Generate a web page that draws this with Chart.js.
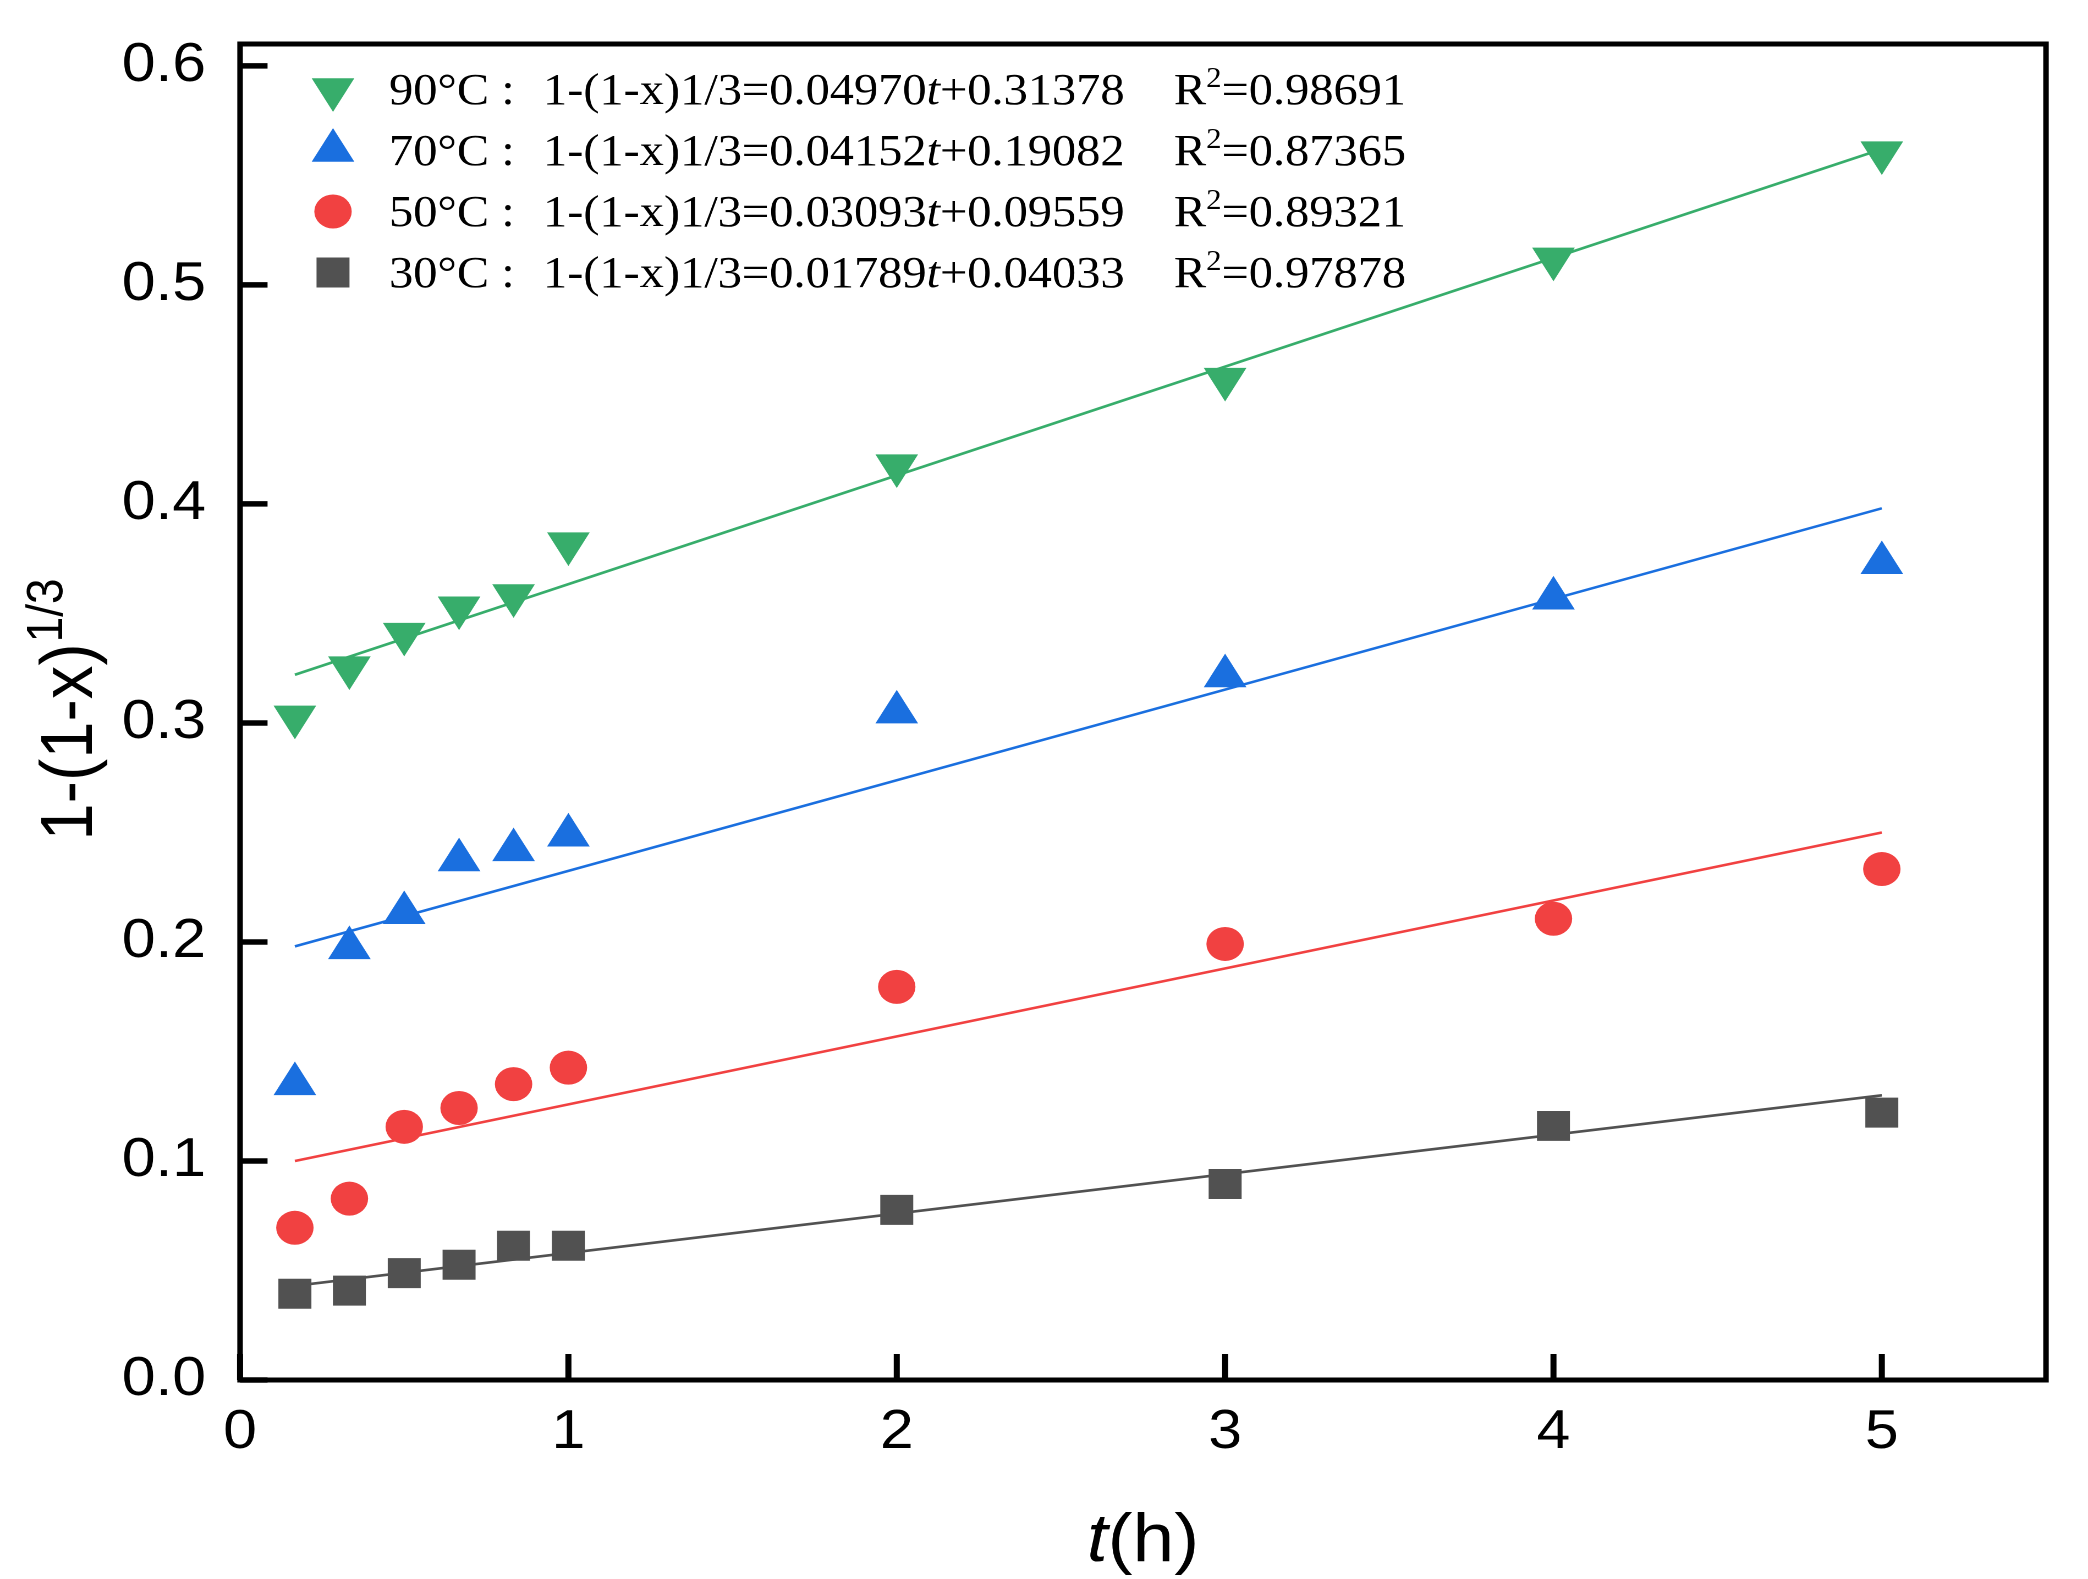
<!DOCTYPE html>
<html>
<head>
<meta charset="utf-8">
<script src="https://cdn.jsdelivr.net/npm/chart.js@4.4.1/dist/chart.umd.min.js"></script>
<style>
html,body{margin:0;padding:0;background:#fff;overflow:hidden;}
#wrap{position:absolute;left:0;top:0;width:1898px;height:1579px;transform:scaleX(1.10011);transform-origin:0 0;}
canvas{display:block;}
</style>
</head>
<body>
<div id="wrap"><canvas id="c" width="1898" height="1579" style="width:1898px;height:1579px"></canvas></div>
<script>
// ---------- data ----------
const times = [0.167, 0.333, 0.5, 0.667, 0.833, 1, 2, 3, 4, 5];
const y90 = [0.3028, 0.3253, 0.3406, 0.3526, 0.3582, 0.3819, 0.4175, 0.4570, 0.5119, 0.5604];
const y70 = [0.1352, 0.1973, 0.2133, 0.2374, 0.2420, 0.2487, 0.3049, 0.3214, 0.3569, 0.3731];
const y50 = [0.0695, 0.0828, 0.1156, 0.1242, 0.1351, 0.1426, 0.1795, 0.1991, 0.2106, 0.2333];
const y30 = [0.0394, 0.0408, 0.0488, 0.0526, 0.0613, 0.0613, 0.0777, 0.0895, 0.1160, 0.1221];
const fitT = [0.167, 5];
const fit90 = [0.322, 0.562];
const fit70 = [0.198, 0.398];
const fit50 = [0.100, 0.250];
const fit30 = [0.043, 0.130];
const xTicks = [0, 1, 2, 3, 4, 5];
const yTicks = [0, 0.1, 0.2, 0.3, 0.4, 0.5, 0.6];
const seriesNames = ['90°C', '70°C', '50°C', '30°C'];
const slopes = ['0.04970', '0.04152', '0.03093', '0.01789'];
const intercepts = ['0.31378', '0.19082', '0.09559', '0.04033'];
const r2 = ['0.98691', '0.87365', '0.89321', '0.97878'];

// ---------- styles ----------
const colors = ['#37AD6B', '#1A6FDF', '#F14141', '#515151'];
const markers = [
  {style: 'triangle', rotation: 180, radius: 22.4},
  {style: 'triangle', rotation: 0, radius: 22.4},
  {style: 'circle', rotation: 0, radius: 17},
  {style: 'rect', rotation: 0, radius: 21.2}
];
const W = 1898, H = 1579;
const AREA = {left: 218.2, right: 1859.8, top: 44, bottom: 1380};
const SANS = '"Liberation Sans", Arial, sans-serif';
const SERIF = '"Liberation Serif", "Times New Roman", serif';

const seriesY = [y90, y70, y50, y30];
const fits = [fit90, fit70, fit50, fit30];

const datasets = [];
for (let i = 0; i < 4; i++) {
  datasets.push({
    type: 'line',
    data: fitT.map((t, j) => ({x: t, y: fits[i][j]})),
    borderColor: colors[i], borderWidth: 2.6,
    pointRadius: 0, fill: false, tension: 0, showLine: true, order: 2
  });
}
for (let i = 0; i < 4; i++) {
  datasets.push({
    type: 'scatter',
    data: times.map((t, j) => ({x: t, y: seriesY[i][j]})),
    backgroundColor: colors[i], borderColor: colors[i], borderWidth: 0,
    pointStyle: markers[i].style, pointRotation: markers[i].rotation,
    pointRadius: markers[i].radius, pointHoverRadius: markers[i].radius,
    showLine: false, order: 1
  });
}

function drawMarker(ctx, m, color, x, y) {
  ctx.save();
  ctx.fillStyle = color;
  ctx.beginPath();
  const r = m.radius;
  if (m.style === 'triangle') {
    let rad = m.rotation * Math.PI / 180;
    ctx.moveTo(x + Math.sin(rad) * r, y - Math.cos(rad) * r);
    rad += 2 * Math.PI / 3;
    ctx.lineTo(x + Math.sin(rad) * r, y - Math.cos(rad) * r);
    rad += 2 * Math.PI / 3;
    ctx.lineTo(x + Math.sin(rad) * r, y - Math.cos(rad) * r);
    ctx.closePath();
  } else if (m.style === 'circle') {
    ctx.arc(x, y, r, 0, Math.PI * 2);
  } else {
    const s = r * Math.SQRT1_2;
    ctx.rect(x - s, y - s, 2 * s, 2 * s);
  }
  ctx.fill();
  ctx.restore();
}

const decor = {
  id: 'decor',
  afterDatasetsDraw(chart) {
    const ctx = chart.ctx, a = chart.chartArea;
    const xs = chart.scales.x, ys = chart.scales.y;
    ctx.save();
    ctx.strokeStyle = '#000';
    ctx.lineCap = 'butt';
    ctx.lineWidth = 5.5;
    xTicks.forEach(v => {
      const px = xs.getPixelForValue(v);
      ctx.beginPath(); ctx.moveTo(px, a.bottom); ctx.lineTo(px, a.bottom - 26); ctx.stroke();
    });
    yTicks.forEach(v => {
      const py = ys.getPixelForValue(v);
      ctx.beginPath(); ctx.moveTo(a.left, py); ctx.lineTo(a.left + 25, py); ctx.stroke();
    });
    ctx.lineWidth = 5;
    ctx.strokeRect(a.left, a.top, a.right - a.left, a.bottom - a.top);
    ctx.restore();
  },
  afterDraw(chart) {
    const ctx = chart.ctx, a = chart.chartArea;
    ctx.save();
    ctx.fillStyle = '#000';
    ctx.textBaseline = 'alphabetic';
    ctx.textAlign = 'left';

    // y axis title: 1-(1-x)^{1/3}
    ctx.font = '67px ' + SANS;
    const main = '1-(1-x)';
    const w1 = ctx.measureText(main).width;
    ctx.font = '46px ' + SANS;
    const sup = '1/3';
    const w2 = ctx.measureText(sup).width;
    const cy = (a.top + a.bottom) / 2 - 2;
    ctx.save();
    ctx.translate(83.6, cy + (w1 + w2) / 2);
    ctx.rotate(-Math.PI / 2);
    ctx.font = '67px ' + SANS;
    ctx.fillText(main, 0, 0);
    ctx.font = '46px ' + SANS;
    ctx.fillText(sup, w1 + 1, -27);
    ctx.restore();

    // x axis title: t(h)
    ctx.font = 'italic 68px ' + SANS;
    const wt = ctx.measureText('t').width;
    ctx.font = '68px ' + SANS;
    const wh = ctx.measureText('(h)').width;
    const cx = 1039;
    const sx = cx - (wt + wh) / 2;
    ctx.font = 'italic 68px ' + SANS;
    ctx.fillText('t', sx, 1561);
    ctx.font = '68px ' + SANS;
    ctx.fillText('(h)', sx + wt, 1561);

    // legend
    const textX = 353.6, markerX = 302.7, r2X = 1067;
    for (let i = 0; i < 4; i++) {
      const by = 104 + i * 61;
      drawMarker(ctx, markers[i], colors[i], markerX, by - 14.5);
      ctx.fillStyle = '#000';
      ctx.font = '44px ' + SERIF;
      ctx.fillText(seriesNames[i], textX, by);
      ctx.fillText(':', textX + 102, by);
      let x = textX + 140;
      const eq1 = '1-(1-x)1/3=' + slopes[i];
      ctx.fillText(eq1, x, by);
      x += ctx.measureText(eq1).width;
      ctx.font = 'italic 44px ' + SERIF;
      ctx.fillText('t', x, by);
      x += ctx.measureText('t').width;
      ctx.font = '44px ' + SERIF;
      ctx.fillText('+' + intercepts[i], x, by);
      let x2 = r2X;
      ctx.fillText('R', x2, by);
      x2 += ctx.measureText('R').width;
      ctx.font = '28px ' + SERIF;
      ctx.fillText('2', x2, by - 17);
      x2 += ctx.measureText('2').width;
      ctx.font = '44px ' + SERIF;
      ctx.fillText('=' + r2[i], x2, by);
    }
    ctx.restore();
  }
};

const chart = new Chart(document.getElementById('c'), {
  type: 'scatter',
  data: {datasets},
  options: {
    responsive: false,
    maintainAspectRatio: false,
    animation: false,
    devicePixelRatio: 2,
    events: [],
    layout: {padding: {left: 0, top: AREA.top, right: W - AREA.right, bottom: 0}},
    plugins: {legend: {display: false}, tooltip: {enabled: false}},
    scales: {
      x: {
        type: 'linear', min: 0, max: 5.5,
        grid: {display: false, drawTicks: false},
        border: {display: false},
        afterBuildTicks: s => { s.ticks = xTicks.map(v => ({value: v})); },
        afterFit: s => { s.height = H - AREA.bottom; s.paddingLeft = 0; s.paddingRight = 0; },
        ticks: {
          padding: 20, color: '#000',
          font: {family: SANS, size: 55},
          callback: v => String(v)
        }
      },
      y: {
        type: 'linear', min: 0, max: 0.61,
        grid: {display: false, drawTicks: false},
        border: {display: false},
        afterBuildTicks: s => { s.ticks = yTicks.map(v => ({value: v})); },
        afterFit: s => { s.width = AREA.left; s.paddingTop = 0; s.paddingBottom = 0; },
        ticks: {
          padding: 31, color: '#000',
          font: {family: SANS, size: 55},
          callback: v => Number(v).toFixed(1)
        }
      }
    }
  },
  plugins: [decor]
});

// nudge the layout so the plot frame lands where the reference has it
for (let k = 0; k < 3; k++) {
  const a = chart.chartArea;
  const p = chart.options.layout.padding;
  const dTop = a.top - AREA.top, dRight = a.right - AREA.right;
  const dLeft = a.left - AREA.left, dBottom = a.bottom - AREA.bottom;
  if (Math.abs(dTop) + Math.abs(dRight) + Math.abs(dLeft) + Math.abs(dBottom) < 0.5) break;
  p.top -= dTop; p.right += dRight; p.left -= dLeft; p.bottom += dBottom;
  chart.update();
}
</script>
</body>
</html>
